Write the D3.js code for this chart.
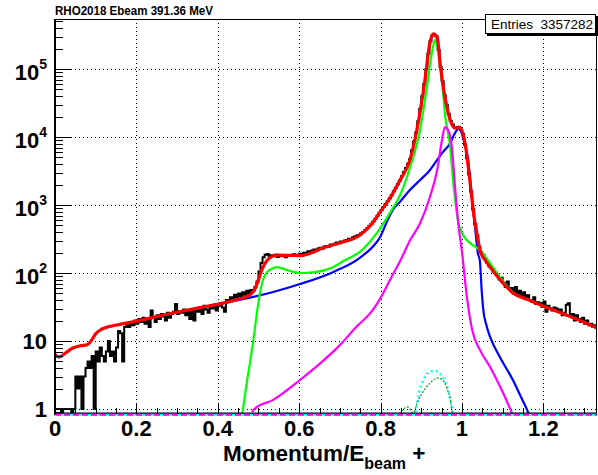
<!DOCTYPE html>
<html><head><meta charset="utf-8">
<script src="https://cdn.jsdelivr.net/npm/d3@7"></script>
<style>body{margin:0;background:#fff}svg{display:block}text{font-family:"Liberation Sans",Arial,Helvetica,sans-serif}</style>
</head><body>
<svg id="c" width="598" height="475"></svg>
<script>
// ---------- DATA ----------
const titleText = "RHO2018 Ebeam 391.36 MeV";
const entriesLabel = "Entries";
const entriesValue = "3357282";
const xTicks = [0, 0.2, 0.4, 0.6, 0.8, 1.0, 1.2];
const xTickLabels = ["0", "0.2", "0.4", "0.6", "0.8", "1", "1.2"];
const yDecades = [0, 1, 2, 3, 4, 5];
const binWidth = 0.005;
const histCounts = [
 1,1,1,0,1,1,1,1,0,1,
 3,2,3,1,3,4,5,4,6,1,
 7,5,8,6,5,7,10,6,7,5,
 8,14,13,5,16,17,16,19,17,20,
 18,21,19,22,18,21,16,28,22,19,
 24,21,25,23,20,26,22,25,27,35,
 25,27,26,29,24,27,21,28,20,30,
 27,31,25,33,29,26,32,30,34,28,
 33,36,31,27,40,38,44,41,48,43,
 50,46,52,48,55,50,56,54,62,75,
 105,140,170,185,190,178,183,176,185,172,
 180,176,182,170,184,178,182,188,180,186,
 192,188,198,195,208,205,215,222,218,230,
 235,228,245,250,243,262,258,270,280,278,
 290,285,300,305,320,315,335,345,355,365,
 385,400,430,455,490,520,570,630,695,768,
 847,935,1031,1137,1256,1403,1590,1795,2030,2300,
 2645,3045,3510,4045,4740,6390,8620,11600,17100,26100,
 39900,60800,99300,167000,255000,311000,318000,300000,190000,107000,
 66000,40800,29700,22000,17200,15300,13600,13700,14000,12700,
 11100,7720,4910,2830,1560,865,527,356,245,200,
 185,160,140,125,118,105,100,92,80,85,
 72,62,75,58,60,50,62,48,55,45,
 52,42,47,40,38,44,35,37,36,32,
 38,27,33,30,28,31,30,27,29,24,
 26,34,36,24,25,20,24,21,19,22,
 18,20,17,18,16,17,16
];
// total fit (red)
const redX = [0,0.01,0.025,0.044,0.062,0.079,0.09,0.1,0.118,0.152,0.2,0.29,0.35,0.413,0.45,0.472,0.483,0.491,0.5,0.508,0.518,0.528,0.545,0.575,0.602,0.63,0.658,0.7,0.75,0.78,0.799,0.825,0.848,0.872,0.889,0.909,0.921,0.929,0.939,0.946,0.958,0.971,0.983,0.993,1.002,1.01,1.017,1.024,1.03,1.036,1.044,1.06,1.076,1.1,1.125,1.16,1.192,1.225,1.258,1.295,1.332];
const redY = [6.3,5.8,6.6,7.9,8.5,8.8,10.3,12.8,15.2,17.2,19.6,25.8,30.5,36,41,45,50,58,80,110,145,168,183,182,180,198,233,277,363,543,790,1320,2330,4600,12700,69000,240000,330000,295000,123000,39000,17800,13500,14000,11500,6500,3000,1300,650,400,220,145,108,72,51,41,34,28.5,24,19.5,15.5];
// green component
const greenX = [0.455,0.462,0.47,0.479,0.488,0.496,0.504,0.511,0.521,0.536,0.545,0.56,0.577,0.602,0.639,0.683,0.713,0.749,0.791,0.823,0.848,0.872,0.897,0.914,0.926,0.934,0.941,0.951,0.958,0.971,0.978,0.99,1.0,1.02,1.044,1.065,1.086,1.125,1.16,1.192,1.225,1.258,1.295,1.332];
const greenY = [0.6,1.0,2.2,4.75,11,25.8,52,79,103,118,122,116,107,100,103,122,155,204,388,765,1400,3500,12700,55000,173000,270000,190000,69000,22000,7100,2330,600,387,275,218,150,100,52,41,34,28.3,23.8,19.3,15.3];
// blue component
const blueX = [0.111,0.152,0.2,0.29,0.413,0.487,0.536,0.602,0.683,0.749,0.785,0.799,0.815,0.83,0.848,0.872,0.897,0.921,0.939,0.953,0.971,0.983,0.993,1.002,1.015,1.025,1.032,1.039,1.044,1.048,1.052,1.06,1.069,1.093,1.125,1.145,1.16,1.17];
const blueY = [15,17.2,19.6,25.8,36,44.5,52.6,69,103,167,260,338,560,846,1120,1660,2330,3250,4600,6000,8100,11500,13500,10000,4600,1180,475,196,150,60,30,17,11.5,5.8,2.67,1.5,0.97,0.7];
// magenta component
const magX = [0.484,0.49,0.536,0.602,0.65,0.7,0.74,0.781,0.799,0.83,0.848,0.872,0.897,0.921,0.939,0.951,0.958,0.966,0.975,0.983,0.99,1.0,1.012,1.025,1.044,1.069,1.101,1.123];
const magY = [0.9,1.0,1.36,2.67,4.6,8.7,16,28.6,42,95,150,300,540,1300,3270,9100,14000,12700,7100,1830,600,203,44.5,14.5,7.4,4.15,1.72,0.87];
// cyan dotted component
const cyanX = [0.885,0.889,0.895,0.902,0.914,0.926,0.937,0.946,0.953,0.96,0.966,0.971,0.975,0.978];
const cyanY = [0.9,1.1,1.8,2.4,3.3,3.6,3.6,3.3,2.95,2.4,1.9,1.4,1.07,0.85];
// dark green dotted component
const dgX = [0.845,0.857,0.862,0.867,0.872,0.877,0.88,0.884,0.89,0.897,0.909,0.921,0.934,0.943,0.951,0.958,0.966,0.971,0.975,0.977];
const dgY = [0.85,1.0,1.06,1.07,1.0,0.9,0.87,0.95,1.25,1.5,1.97,2.4,2.76,2.86,2.7,2.4,1.8,1.45,0.97,0.8];

// ---------- LAYOUT ----------
const L = 55, R = 597, T = 19, B = 414;
const svg = d3.select("#c");
const x = d3.scaleLinear().domain([0, 1.3317]).range([L, R]);
const y = d3.scaleLog().domain([Math.pow(10, -5/68), Math.pow(10, 390/68)]).range([B, T]);

svg.append("defs").append("clipPath").attr("id","fr")
  .append("rect").attr("x",L).attr("y",T).attr("width",R-L).attr("height",B-T);

// grid
const grid = svg.append("g").attr("stroke","#000").attr("stroke-width",1).attr("stroke-dasharray","1,3");
xTicks.filter(v=>v>0).forEach(v=>{
  grid.append("line").attr("x1",Math.round(x(v))+0.5).attr("x2",Math.round(x(v))+0.5).attr("y1",T).attr("y2",B);
});
yDecades.forEach(d=>{
  const yy = Math.round(y(Math.pow(10,d)))+0.5;
  grid.append("line").attr("x1",L).attr("x2",R).attr("y1",yy).attr("y2",yy);
});

const plot = svg.append("g").attr("clip-path","url(#fr)");
const yv = v => v > 0 ? y(v) : B + 20;

// histogram
const hpts = histCounts.map((c,i)=>[i*binWidth, c]);
hpts.push([histCounts.length*binWidth, histCounts[histCounts.length-1]]);
plot.append("path").attr("d", d3.line().x(d=>x(d[0])).y(d=>yv(d[1])).curve(d3.curveStepAfter)(hpts))
  .attr("fill","none").attr("stroke","#000").attr("stroke-width",2);

function curve(xs, ys, color, w, dash){
  const pts = xs.map((v,i)=>[v, ys[i]]);
  const p = plot.append("path").attr("d", d3.line().x(d=>x(d[0])).y(d=>y(d[1])).curve(d3.curveMonotoneX)(pts))
    .attr("fill","none").attr("stroke",color).attr("stroke-width",w).attr("stroke-linejoin","round");
  if (dash) p.attr("stroke-dasharray", dash);
}
curve(blueX, blueY, "#0000ff", 2.2);
curve(greenX, greenY, "#00ff00", 2.2);
curve(magX, magY, "#ff00ff", 2.2);
curve(cyanX, cyanY, "#00ffff", 2.5, "2,3");
curve(dgX, dgY, "#2f9a2f", 1.3, "2,1.5");
curve(redX, redY, "#ff0000", 3.2);

// frame
svg.append("rect").attr("x",L+0.5).attr("y",T+0.5).attr("width",R-L-1).attr("height",B-T-1)
  .attr("fill","none").attr("stroke","#000").attr("stroke-width",1);
svg.append("line").attr("x1",L).attr("x2",L).attr("y1",T).attr("y2",B+1).attr("stroke","#000").attr("stroke-width",2);
svg.append("line").attr("x1",L).attr("x2",R).attr("y1",B-0.5).attr("y2",B-0.5).attr("stroke","#000").attr("stroke-width",2);
// zero-level functions along bottom
svg.append("line").attr("x1",L).attr("x2",R).attr("y1",B+0.8).attr("y2",B+0.8).attr("stroke","#00ffff").attr("stroke-width",2);
svg.append("line").attr("x1",L).attr("x2",R).attr("y1",B+0.8).attr("y2",B+0.8).attr("stroke","#ff00ff").attr("stroke-width",2).attr("stroke-dasharray","6,3");

// x ticks
const ax = svg.append("g").attr("stroke","#000").attr("stroke-width",1);
for (let k=0; k*0.05 <= 1.3317; k++){
  const v = k*0.05, xx = Math.round(x(v))+0.5, major = k%4===0;
  ax.append("line").attr("x1",xx).attr("x2",xx).attr("y1",B).attr("y2",B-(major?11:6));
}
// y ticks (log)
for (let d=-1; d<=5; d++){
  for (let m=1; m<=9; m++){
    const v = m*Math.pow(10,d);
    if (v < y.domain()[0] || v > y.domain()[1]) continue;
    const yy = Math.round(y(v))+0.5;
    ax.append("line").attr("x1",L).attr("x2",L+(m===1?16:8)).attr("y1",yy).attr("y2",yy);
  }
}

// x labels
xTicks.forEach((v,i)=>{
  svg.append("text").attr("x",x(v)).attr("y",436).attr("text-anchor","middle")
    .attr("font-size",22).attr("font-weight","bold").text(xTickLabels[i]);
});
// y labels
yDecades.forEach(d=>{
  const yy = y(Math.pow(10,d));
  if (d===0){
    svg.append("text").attr("x",47).attr("y",yy+8).attr("text-anchor","end").attr("font-size",22).attr("font-weight","bold").text("1");
  } else if (d===1){
    svg.append("text").attr("x",47).attr("y",yy+8).attr("text-anchor","end").attr("font-size",22).attr("font-weight","bold").text("10");
  } else {
    const t = svg.append("text").attr("x",47).attr("y",yy+11).attr("text-anchor","end").attr("font-size",22).attr("font-weight","bold");
    t.append("tspan").text("10");
    t.append("tspan").attr("font-size",14).attr("dy",-11).text(String(d));
  }
});
// x title
const xt = svg.append("text").attr("x",223).attr("y",461).attr("font-size",22.5).attr("font-weight","bold");
xt.append("tspan").text("Momentum/E");
xt.append("tspan").attr("font-size",16).attr("dy",8).text("beam");
xt.append("tspan").attr("dy",-8).text(" +");

// title
svg.append("text").attr("x",55).attr("y",15).attr("font-size",12).attr("font-weight","bold")
  .attr("textLength",158).attr("lengthAdjust","spacingAndGlyphs").text(titleText);

// stats box
svg.append("rect").attr("x",487).attr("y",16).attr("width",111).attr("height",20).attr("fill","#000");
svg.append("rect").attr("x",485.5).attr("y",14.5).attr("width",110).attr("height",19).attr("fill","#fff").attr("stroke","#000").attr("stroke-width",1);
svg.append("text").attr("x",491).attr("y",28.5).attr("font-size",13.5).text(entriesLabel);
svg.append("text").attr("x",593).attr("y",28.5).attr("font-size",13.5).attr("text-anchor","end").text(entriesValue);
</script>
</body></html>
